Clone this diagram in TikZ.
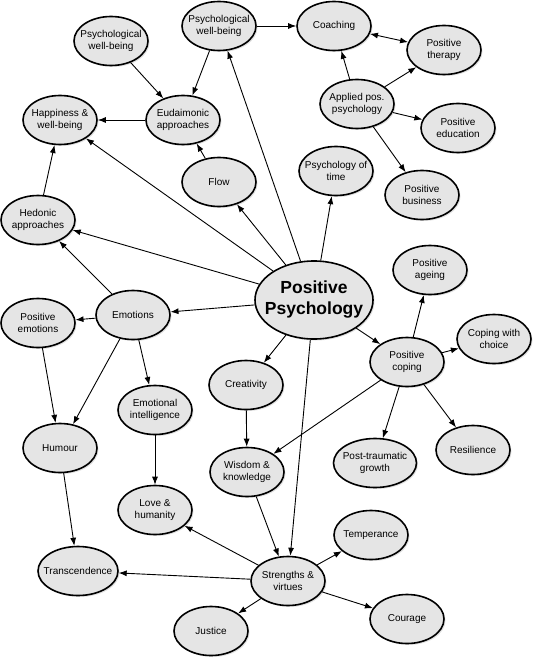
\documentclass[tikz,border=0pt]{standalone}
\usepackage{fontspec}
\setmainfont{Liberation Sans}
\usetikzlibrary{shapes.geometric,arrows.meta,shadows}
\definecolor{bubblegray}{gray}{0.9}
\tikzset{
	bubble/.style={ellipse, draw, line width=1.6pt, fill=bubblegray, minimum width=74pt, minimum height=49pt, inner xsep=-12pt, inner ysep=-6pt, align=center, font=\fontsize{10}{12}\selectfont, drop shadow={fill=black, opacity=0.12, shadow xshift=1.5pt, shadow yshift=-1.5pt}},
	link/.style={-{Latex[length=8pt,width=6pt]}, line width=0.9pt},
}
\begin{document}
\begin{tikzpicture}[x=1pt, y=-1pt]
			\useasboundingbox (0,0) rectangle (538,663);
			
			%Centre
			\node[bubble, minimum width=118pt, minimum height=78pt, font=\fontsize{17.5}{21}\selectfont\bfseries] (pospsy) at (314,300) {Positive\\Psychology};
			
			%Well-being branch
			\node[bubble] (pwbA) at (111,41) {Psychological\\well-being};
			\node[bubble] (pwbB) at (219,26) {Psychological\\well-being};
			\node[bubble] (happiness) at (60,120) {Happiness \&\\well-being};
			\node[bubble] (eudaimonic) at (183,120) {Eudaimonic\\approaches};
			\node[bubble] (flow) at (219,182) {Flow};
			\node[bubble] (hedonic) at (38,220) {Hedonic\\approaches};
			
			%Applied branch
			\node[bubble] (coaching) at (334,26) {Coaching};
			\node[bubble] (therapy) at (444,50) {Positive\\therapy};
			\node[bubble] (applied) at (357,104) {Applied pos.\\psychology};
			\node[bubble] (education) at (458,128) {Positive\\education};
			\node[bubble] (time) at (336,171) {Psychology of\\time};
			\node[bubble] (business) at (422,195) {Positive\\business};
			
			%Emotions branch
			\node[bubble] (emotions) at (133,315) {Emotions};
			\node[bubble] (posemo) at (38,323) {Positive\\emotions};
			\node[bubble] (emoint) at (155,410) {Emotional\\intelligence};
			\node[bubble] (humour) at (60,448) {Humour};
			
			%Coping branch
			\node[bubble] (ageing) at (430,270) {Positive\\ageing};
			\node[bubble] (choice) at (494,339) {Coping with\\choice};
			\node[bubble] (coping) at (407,362) {Positive\\coping};
			\node[bubble, minimum width=83pt] (growth) at (375,463) {Post-traumatic\\growth};
			\node[bubble] (resilience) at (473,450) {Resilience};
			
			%Strengths branch
			\node[bubble] (creativity) at (246,385) {Creativity};
			\node[bubble] (wisdom) at (247,472) {Wisdom \&\\knowledge};
			\node[bubble] (love) at (155,510) {Love \&\\humanity};
			\node[bubble] (temperance) at (371,535) {Temperance};
			\node[bubble, minimum width=80pt] (transcend) at (78,571) {Transcendence};
			\node[bubble] (strengths) at (288,581) {Strengths \&\\virtues};
			\node[bubble] (courage) at (407,619) {Courage};
			\node[bubble] (justice) at (211,631) {Justice};
			
			%Links
			\draw[link] (pwbA) -- (eudaimonic);
			\draw[link] (pwbB) -- (eudaimonic);
			\draw[link] (eudaimonic) -- (happiness);
			\draw[link] (flow) -- (eudaimonic);
			\draw[link] (hedonic) -- (happiness);
			\draw[link] (pospsy) -- (happiness);
			\draw[link] (pospsy) -- (pwbB);
			\draw[link] (pwbB) -- (coaching);
			\draw[link, {Latex[length=8pt,width=6pt]}-{Latex[length=8pt,width=6pt]}] (coaching) -- (therapy);
			\draw[link] (applied) -- (coaching);
			\draw[link] (applied) -- (therapy);
			\draw[link] (applied) -- (education);
			\draw[link] (applied) -- (business);
			\draw[link] (pospsy) -- (time);
			\draw[link] (pospsy) -- (flow);
			\draw[link] (pospsy) -- (hedonic);
			\draw[link] (pospsy) -- (emotions);
			\draw[link] (emotions) -- (hedonic);
			\draw[link] (emotions) -- (posemo);
			\draw[link] (emotions) -- (humour);
			\draw[link] (emotions) -- (emoint);
			\draw[link] (posemo) -- (humour);
			\draw[link] (humour) -- (transcend);
			\draw[link] (emoint) -- (love);
			\draw[link] (pospsy) -- (creativity);
			\draw[link] (pospsy) -- (coping);
			\draw[link] (pospsy) -- (strengths);
			\draw[link] (creativity) -- (wisdom);
			\draw[link] (coping) -- (wisdom);
			\draw[link] (coping) -- (ageing);
			\draw[link] (coping) -- (choice);
			\draw[link] (coping) -- (growth);
			\draw[link] (coping) -- (resilience);
			\draw[link] (wisdom) -- (strengths);
			\draw[link] (strengths) -- (love);
			\draw[link] (strengths) -- (transcend);
			\draw[link] (strengths) -- (temperance);
			\draw[link] (strengths) -- (courage);
			\draw[link] (strengths) -- (justice);
\end{tikzpicture}
\end{document}
